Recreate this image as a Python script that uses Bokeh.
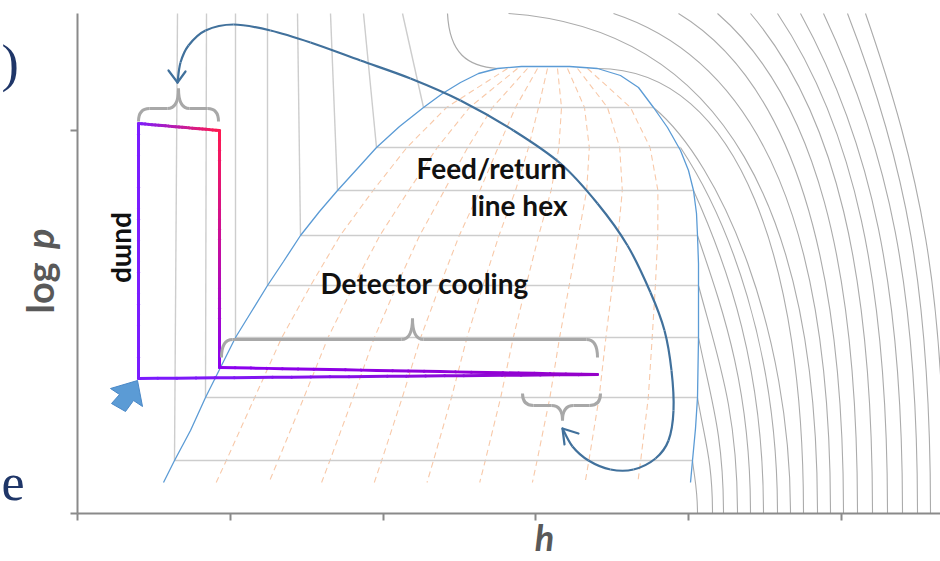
import numpy as np
from bokeh.plotting import figure
from bokeh.models import Range1d, FixedTicker, CustomJSTickFormatter
from bokeh.embed import file_html
from bokeh.resources import INLINE
from bokeh.core.properties import value

# ---------------- data (arbitrary h / log p units) ----------------
h_ticks = [0, 152.8, 305.6, 458.4, 611.2, 764.0]
lp_ticks = [0, 383.5]
LP_TOP = 500
H_MAX = 863

# saturation dome (liquid side up, vapour side down)
dome_h = [86, 97, 113, 128, 143, 158, 174, 190, 206, 223, 242, 260, 280, 299, 322, 346,
          365, 383, 401, 420, 444, 468, 492, 520, 543, 561, 576, 590, 603, 611, 616, 619,
          620, 621, 621, 621, 620, 618, 615, 613]
dome_lp = [31, 53, 83, 116, 146, 176, 202, 228, 252, 278, 302, 323, 345, 366, 387, 406,
           420, 431, 440, 445, 447, 447, 447, 445, 438, 426, 406, 386, 363, 343, 323, 300,
           278, 250, 228, 176, 116, 85, 53, 31]

# two-phase levels: pressure, sat. liquid h, sat. vapour h
lev_lp = [445, 406, 366, 323, 278, 228, 176, 116, 53, 31]
lev_hL = [420, 346, 299, 260, 223, 190, 158, 128, 97, 86]
lev_hV = [520, 576, 603, 616, 620, 621, 621, 620, 615, 613]
qualities = [0.1, 0.2, 0.3, 0.4, 0.5, 0.6, 0.7, 0.8, 0.9]

# subcritical isotherms (levels 1..8)
iso_top_h = [325, 286, 253, 220, 190, 158, 129, 100]
iso_bottom_h = [713, 700, 686, 673, 660, 646, 635, 620]
iso_bend = [0.14, 0.2, 0.24, 0.28, 0.32, 0.35, 0.38, 0.4]

# critical isotherm (liquid side curve, then vapour side)
crit_h = [370, 372, 390, 420]
crit_lp = [500, 460, 447, 445]
crit_start = (520, 445)
crit_bottom_h = 726

# supercritical isotherms: where they cross the top, where they reach the bottom
sc_top_h = [431, 536, 601, 640, 673, 700, 723, 746, 770, 788]
sc_bottom_h = [740, 753, 766, 780, 795, 810, 825, 840, 853, 867]
sc_bend = [0.03, 0.1, 0.14, 0.17, 0.2, 0.23, 0.26, 0.28, 0.3, 0.32]
sc_knee = [0.6, 0.55, 0.5, 0.5, 0.48, 0.46, 0.45, 0.45, 0.45, 0.45]

# CO2 cycle
cyc_h = [61, 61, 142, 142, 520, 61]
cyc_lp = [135, 390, 383, 146, 139, 135]
cyc_col = ["#7a1cff", "#7a1cff", "#ff1a4f", "#8a00f0", "#9600c8", "#7a1cff"]

# braces: x0, x1, xc, y_end, y_mid, y_cusp
br_x0 = [61, 144, 445]
br_x1 = [141, 520, 523]
br_xc = [101, 335, 485]
br_ye = [392, 156, 120]
br_ym = [405, 174, 108]
br_yc = [425, 195, 93]

# feed/return line hex arrow path
arr_h = [485, 495, 511, 533, 556, 578, 591, 596, 594, 587, 573, 550, 520, 483, 436, 383,
         333, 283, 233, 193, 156, 128, 111, 103, 100]
arr_lp = [85, 67, 53, 44, 44, 55, 73, 103, 143, 183, 221, 268, 310, 350, 383, 413,
          435, 453, 471, 483, 489, 483, 468, 451, 431]
head_tip_h = [100, 485]
head_tip_lp = [431, 85]
head_a_h = [91, 501]
head_a_lp = [443, 80]
head_b_h = [108, 487]
head_b_lp = [442, 69]

# inlet block arrow
blk_h = [60, 65, 56, 48, 34, 42, 33]
blk_lp = [133, 107, 113, 102, 110, 119, 125]

# ---------------- figure ----------------
p = figure(width=940, height=561, output_backend="svg", toolbar_location=None,
           x_range=Range1d(-77, H_MAX), y_range=Range1d(-48, 513),
           min_border_left=0, min_border_right=0, min_border_top=0, min_border_bottom=0)
p.outline_line_color = None
p.grid.visible = False
for ax, tk, bd in ((p.xaxis, h_ticks, (0, H_MAX)), (p.yaxis, lp_ticks, (0, LP_TOP))):
    ax.fixed_location = 0
    ax.bounds = bd
    ax.ticker = FixedTicker(ticks=tk)
    ax.formatter = CustomJSTickFormatter(code="return ''")
    ax.axis_line_color = "#8a8a8a"
    ax.axis_line_width = 2
    ax.major_tick_line_color = "#8a8a8a"
    ax.major_tick_line_width = 2
    ax.major_tick_out = 7
    ax.major_tick_in = 0
    ax.minor_tick_line_color = None
    ax.major_label_standoff = 0

LIGHT = "#cdcdcd"
MID = "#ababab"

# liquid-side isotherms (near vertical)
p.segment(x0=iso_top_h, y0=[LP_TOP] * 8, x1=lev_hL[1:9], y1=lev_lp[1:9],
          line_color=LIGHT, line_width=1.4)
p.bezier(x0=[crit_h[0]], y0=[crit_lp[0]], cx0=[crit_h[1]], cy0=[crit_lp[1]],
         cx1=[crit_h[2]], cy1=[crit_lp[2]], x1=[crit_h[3]], y1=[crit_lp[3]],
         line_color=MID, line_width=1.2)

# vapour-side isotherms
v_x0 = np.array(lev_hV[1:9] + [crit_start[0]] + sc_top_h, dtype=float)
v_y0 = np.array(lev_lp[1:9] + [crit_start[1]] + [LP_TOP] * len(sc_top_h), dtype=float)
v_xb = np.array(iso_bottom_h + [crit_bottom_h] + sc_bottom_h, dtype=float)
v_d = np.array(iso_bend + [0.0] + sc_bend)
v_h1 = np.array([0.5] * 8 + [0.7] + [0.7] * len(sc_top_h))
v_h2 = np.array([0.45] * 8 + [0.55] + sc_knee)
p.bezier(x0=v_x0, y0=v_y0, x1=v_xb, y1=np.zeros_like(v_xb),
         cx0=v_x0 + v_h1 * (v_xb - v_x0), cy0=v_y0 * (1 - v_d),
         cx1=v_xb, cy1=v_h2 * v_y0, line_color=MID, line_width=1.1)

# quality lines inside the dome
hL = np.array(lev_hL, float)
hV = np.array(lev_hV, float)
p.multi_line(xs=[list(hL + q * (hV - hL)) for q in qualities], ys=[lev_lp] * len(qualities),
             line_color="#f8c9a9", line_width=1.1, line_dash="6 4")

# isobars in two-phase region
p.segment(x0=lev_hL[1:9], y0=lev_lp[1:9], x1=lev_hV[1:9], y1=lev_lp[1:9],
          line_color=LIGHT, line_width=1.4)

# dome
p.line(dome_h, dome_lp, line_color="#5b9bd5", line_width=1.3)

# cycle with colour gradient
def mix(c1, c2, t):
    a = [int(c1[i:i + 2], 16) for i in (1, 3, 5)]
    b = [int(c2[i:i + 2], 16) for i in (1, 3, 5)]
    return "#%02x%02x%02x" % tuple(int(round(a[k] + (b[k] - a[k]) * t)) for k in range(3))

sx0, sy0, sx1, sy1, scol = [], [], [], [], []
n = 24
for i in range(len(cyc_h) - 1):
    for k in range(n):
        t0, t1 = k / n, (k + 1) / n
        sx0.append(cyc_h[i] + (cyc_h[i + 1] - cyc_h[i]) * t0)
        sy0.append(cyc_lp[i] + (cyc_lp[i + 1] - cyc_lp[i]) * t0)
        sx1.append(cyc_h[i] + (cyc_h[i + 1] - cyc_h[i]) * t1)
        sy1.append(cyc_lp[i] + (cyc_lp[i + 1] - cyc_lp[i]) * t1)
        scol.append(mix(cyc_col[i], cyc_col[i + 1], (t0 + t1) / 2))
p.segment(x0=sx0, y0=sy0, x1=sx1, y1=sy1, line_color=scol, line_width=3, line_cap="round")

# braces
r = 11
qx0, qy0, qx1, qy1, qcx, qcy = [], [], [], [], [], []
lx0, ly0, lx1, ly1 = [], [], [], []
for x0, x1, xc, ye, ym, yc in zip(br_x0, br_x1, br_xc, br_ye, br_ym, br_yc):
    for (ax_, ay_, bx_, by_, cx_, cy_) in (
            (x0, ye, x0 + r, ym, x0, ym), (xc - r, ym, xc, yc, xc, ym),
            (xc + r, ym, xc, yc, xc, ym), (x1 - r, ym, x1, ye, x1, ym)):
        qx0.append(ax_); qy0.append(ay_); qx1.append(bx_); qy1.append(by_)
        qcx.append(cx_); qcy.append(cy_)
    lx0 += [x0 + r, xc + r]; lx1 += [xc - r, x1 - r]; ly0 += [ym, ym]; ly1 += [ym, ym]
BR = "#a8a8a8"
p.quadratic(x0=qx0, y0=qy0, x1=qx1, y1=qy1, cx=qcx, cy=qcy, line_color=BR, line_width=3)
p.segment(x0=lx0, y0=ly0, x1=lx1, y1=ly1, line_color=BR, line_width=3)

# feed/return arrow (smooth curve through read points)
P = np.column_stack([arr_h, arr_lp]).astype(float)
Pp = np.vstack([P[0], P, P[-1]])
c0 = Pp[1:-2] + (Pp[2:-1] - Pp[:-3]) / 6.0
c1 = Pp[2:-1] - (Pp[3:] - Pp[1:-2]) / 6.0
BL = "#41719c"
p.bezier(x0=P[:-1, 0], y0=P[:-1, 1], x1=P[1:, 0], y1=P[1:, 1], cx0=c0[:, 0], cy0=c0[:, 1],
         cx1=c1[:, 0], cy1=c1[:, 1], line_color=BL, line_width=2.2)
p.segment(x0=head_a_h + head_b_h, y0=head_a_lp + head_b_lp, x1=head_tip_h * 2,
          y1=head_tip_lp * 2, line_color=BL, line_width=2.2, line_cap="round")

# inlet block arrow
p.patch(blk_h, blk_lp, fill_color="#5b9bd5", line_color="#4a88c7", line_width=1)

# texts
F = value("Lato")
p.text(x=[489, 490], y=[346, 309], text=["Feed/return", "line hex"], text_font=F,
       text_font_style="bold", text_font_size="28px", text_color="#111111",
       text_align="right", text_baseline="alphabetic")
p.text(x=[243], y=[231], text=["Detector cooling"], text_font=F, text_font_style="bold",
       text_font_size="28px", text_color="#111111", text_align="left",
       text_baseline="alphabetic")
p.text(x=[49], y=[266], text=["pump"], text_font=F, text_font_style="bold",
       text_font_size="28px", text_color="#111111", angle=-np.pi / 2,
       text_align="center", text_baseline="middle")

# axis titles
p.text(x=[-39], y=[200], text=["log"], angle=np.pi / 2, text_font=F,
       text_font_style="bold", text_font_size="38px", text_color="#595959",
       text_align="left", text_baseline="alphabetic")
p.text(x=[-39], y=[285], text=["p"], angle=np.pi / 2, text_font=F,
       text_font_style="bold italic", text_font_size="38px", text_color="#595959",
       text_align="right", text_baseline="alphabetic")
p.text(x=[467], y=[-23], text=["h"], text_font=F,
       text_font_style="bold italic", text_font_size="36px", text_color="#595959",
       text_align="center", text_baseline="alphabetic")

# slide text fragments at the left edge
p.text(x=[-76, -76], y=[450, 31], text=[")", "e"], text_font=value("Liberation Serif"),
       text_font_size="52px", text_color="#1f3668",
       text_align="left", text_baseline="alphabetic")

open("out.html", "w").write(file_html(p, INLINE))
